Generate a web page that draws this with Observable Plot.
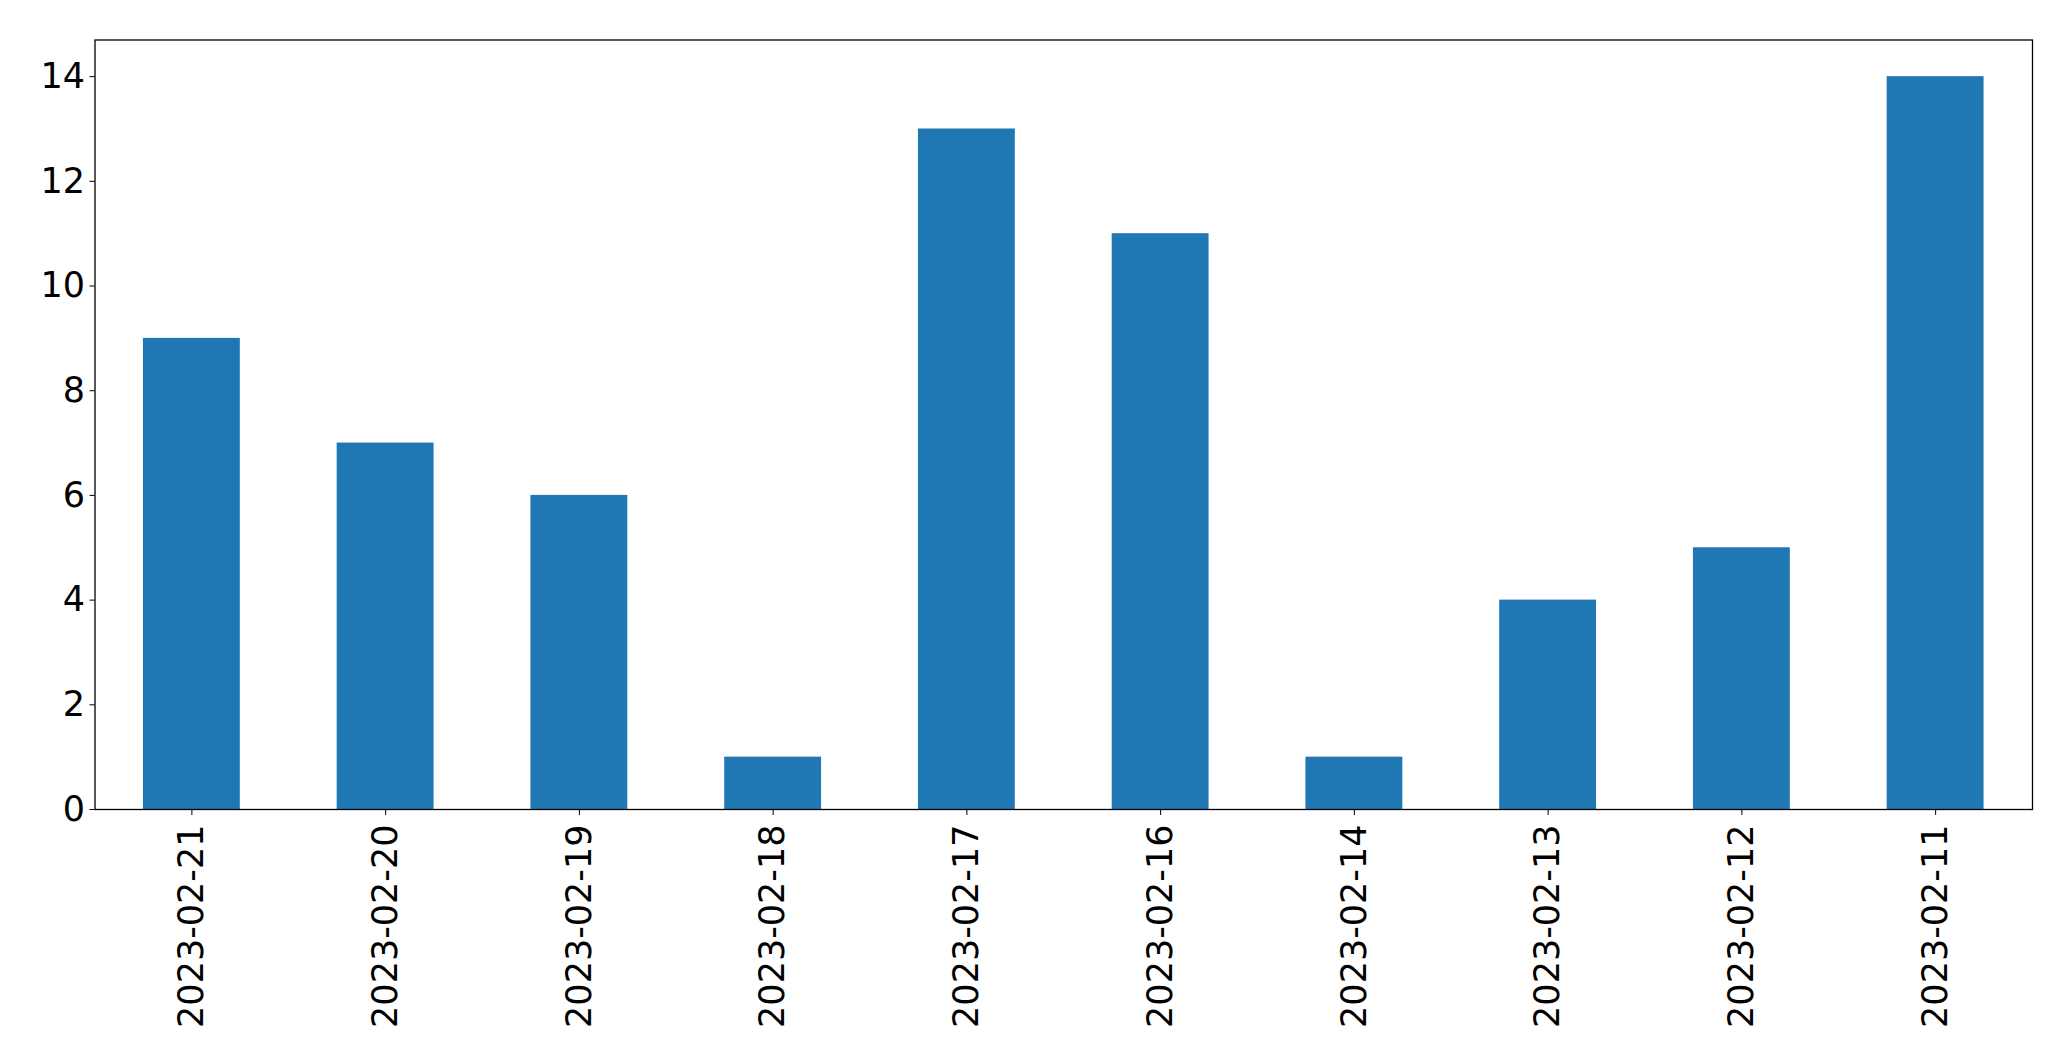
<!DOCTYPE html>
<html>
<head>
<meta charset="utf-8">
<script src="https://cdn.jsdelivr.net/npm/d3@7"></script>
<script src="https://cdn.jsdelivr.net/npm/@observablehq/plot@0.6"></script>
<style>
  html, body { margin: 0; padding: 0; background: #fff; }
  #chart svg { display: block; }
</style>
</head>
<body>
<div id="chart"></div>
<script>
const dates = ["2023-02-21","2023-02-20","2023-02-19","2023-02-18","2023-02-17","2023-02-16","2023-02-14","2023-02-13","2023-02-12","2023-02-11"];
const counts = [9, 7, 6, 1, 13, 11, 1, 4, 5, 14];
const yTicks = [0, 2, 4, 6, 8, 10, 12, 14];

const data = dates.map((d, i) => ({date: d, count: counts[i]}));

const chart = Plot.plot({
  width: 2071,
  height: 1061,
  marginLeft: 94.5,
  marginRight: 39,
  marginTop: 39.5,
  marginBottom: 252,
  style: {fontFamily: "DejaVu Sans", fontSize: "35px", color: "#000", background: "#fff"},
  x: {domain: dates, paddingInner: 0.5, paddingOuter: 0.25, align: 0.5, round: false, label: null},
  y: {domain: [0, 14.7], label: null},
  marks: [
    Plot.barY(data, {x: "date", y: "count", fill: "#1f77b4"}),
    Plot.axisY({ticks: yTicks, tickSize: 5, tickPadding: 5, label: null, fontSize: 35, stroke: "#000"}),
    Plot.axisX({tickSize: 6, tickPadding: 9, tickRotate: -90, label: null, fontSize: 35, stroke: "#000"}),
    Plot.frame({stroke: "#000", strokeWidth: 1.3})
  ]
});
document.getElementById("chart").appendChild(chart);
</script>
</body>
</html>
